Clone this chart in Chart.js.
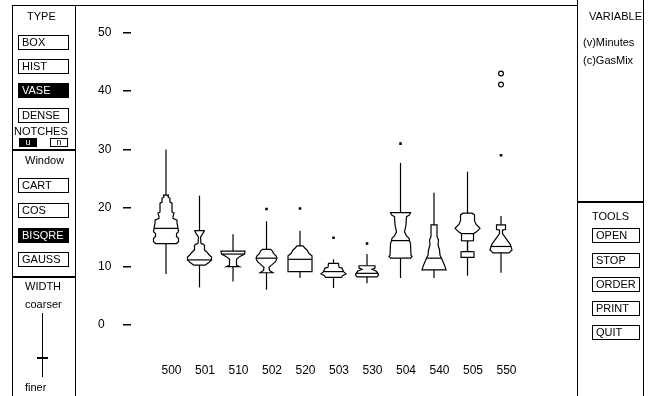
<!DOCTYPE html>
<html>
<head>
<meta charset="utf-8">
<script src="https://cdn.jsdelivr.net/npm/chart.js@4"></script>
<style>
  body { margin: 0; background: #fff; }
  #wrap { position: relative; width: 651px; height: 396px; overflow: hidden;
          font-family: 'Liberation Sans', Arial, sans-serif; font-size: 11px; color: #000; }
  #chartBox { position: absolute; left: 0; top: 0; width: 651px; height: 396px; }
  .ln { position: absolute; background: #000; }
  .txt { position: absolute; line-height: 12px; white-space: nowrap; }
  .btn { position: absolute; box-sizing: border-box; height: 15px; line-height: 13px;
         border: 1px solid #000; padding-left: 3px; background: #fff; }
  .btn.on { background: #000; color: #fff; }
  .notch { position: absolute; box-sizing: border-box; width: 18px; height: 9px; top: 138px;
           border: 1px solid #000; font-size: 9px; line-height: 7px; text-align: center; }
</style>
</head>
<body>
<div id="wrap">
  <div id="chartBox"><canvas id="miGrafica"></canvas></div>

  <!-- marcos -->
  <div class="ln" style="left:12px;top:5px;width:565px;height:1px"></div>
  <div class="ln" style="left:12px;top:5px;width:1px;height:391px"></div>
  <div class="ln" style="left:75px;top:5px;width:1px;height:391px"></div>
  <div class="ln" style="left:12px;top:149px;width:64px;height:2px"></div>
  <div class="ln" style="left:12px;top:276px;width:64px;height:2px"></div>
  <div class="ln" style="left:577px;top:0;width:1px;height:396px"></div>
  <div class="ln" style="left:643px;top:0;width:1px;height:396px"></div>
  <div class="ln" style="left:577px;top:201px;width:67px;height:2px"></div>

  <!-- panel izquierdo -->
  <div class="txt" style="left:27px;top:10px">TYPE</div>
  <div class="btn" style="left:18px;top:35px;width:51px">BOX</div>
  <div class="btn" style="left:18px;top:59px;width:51px">HIST</div>
  <div class="btn on" style="left:18px;top:83px;width:51px">VASE</div>
  <div class="btn" style="left:18px;top:108px;width:51px">DENSE</div>
  <div class="txt" style="left:14px;top:125px">NOTCHES</div>
  <div class="notch" style="left:19px;background:#000;color:#fff">u</div>
  <div class="notch" style="left:50px">n</div>
  <div class="txt" style="left:25px;top:154px">Window</div>
  <div class="btn" style="left:18px;top:178px;width:51px">CART</div>
  <div class="btn" style="left:18px;top:203px;width:51px">COS</div>
  <div class="btn on" style="left:18px;top:228px;width:51px">BISQRE</div>
  <div class="btn" style="left:18px;top:252px;width:51px">GAUSS</div>
  <div class="txt" style="left:25px;top:280px">WIDTH</div>
  <div class="txt" style="left:25px;top:298px">coarser</div>
  <div class="ln" style="left:42px;top:313px;width:1px;height:64px"></div>
  <div class="ln" style="left:37px;top:357px;width:11px;height:2px"></div>
  <div class="txt" style="left:25px;top:381px">finer</div>

  <!-- panel derecho -->
  <div class="txt" style="left:589px;top:10px">VARIABLE</div>
  <div class="txt" style="left:583px;top:36px">(v)Minutes</div>
  <div class="txt" style="left:583px;top:54px">(c)GasMix</div>
  <div class="txt" style="left:592px;top:210px">TOOLS</div>
  <div class="btn" style="left:592px;top:228px;width:48px">OPEN</div>
  <div class="btn" style="left:592px;top:253px;width:48px">STOP</div>
  <div class="btn" style="left:592px;top:277px;width:48px">ORDER</div>
  <div class="btn" style="left:592px;top:301px;width:48px">PRINT</div>
  <div class="btn" style="left:592px;top:325px;width:48px">QUIT</div>
</div>

<script>
// grupos (GasMix) y valores
const grupos = ['500', '501', '510', '502', '520', '503', '530', '504', '540', '505', '550'];
const bigoteBajo = [8.7, 6.4, 7.4, 6.0, 8.0, 6.3, 7.1, 8.0, 8.0, 8.4, 8.9];
const bigoteAlto = [30.0, 22.1, 15.5, 17.7, 16.1, 11.2, 12.1, 27.7, 22.6, 26.2, 18.6];
const medianas = [16.5, 11.1, 12.1, 11.4, 11.2, 9.1, 8.8, 14.4, 11.4, 15.6, 13.4];

// perfil del jarron: [valor, densidad] desde abajo (bisagra inferior) hasta arriba
const perfiles = [
  [[13.9, 10.5], [14.2, 12.5], [14.8, 12.5], [15.1, 10.5], [15.6, 10.5], [15.9, 12.5], [16.5, 12], [17.4, 11], [17.9, 11], [18.2, 7], [18.5, 7], [19.1, 8], [19.3, 6], [20.8, 6], [21.0, 4], [21.6, 4], [21.9, 2], [22.2, 2.5]],
  [[10.2, 5.5], [10.6, 9], [11.1, 12], [11.6, 12], [11.9, 10], [12.5, 7], [12.8, 5], [13.6, 5], [13.8, 3.5], [13.9, 1.5], [15.0, 1], [16.0, 4.7], [16.1, 4.7]],
  [[9.95, 6.5], [10.2, 3.5], [11.2, 3.5], [11.7, 7], [12.1, 11.5], [12.6, 12]],
  [[8.9, 6.5], [9.3, 3], [9.85, 2.5], [10.2, 5], [10.8, 9], [11.4, 10.5], [11.8, 9.5], [12.2, 7], [12.6, 6], [12.9, 4]],
  [[9.1, 12], [11.8, 12], [12.2, 9], [12.8, 7], [13.1, 5], [13.5, 3]],
  [[8.1, 8], [8.4, 9], [8.7, 12.5], [9.1, 10], [9.7, 8.5], [9.85, 5.5], [10.5, 5]],
  [[8.2, 10], [8.5, 11.5], [8.8, 11], [9.2, 9], [9.5, 5], [9.7, 8], [10.1, 8]],
  [[11.4, 10], [11.7, 11.5], [11.9, 10.5], [13.9, 10], [14.4, 9], [14.8, 8.5], [15.2, 6], [15.9, 4], [17.1, 5.5], [18.5, 6], [18.8, 9], [19.2, 10]],
  [[9.4, 12], [10.2, 10.5], [11.4, 7.5], [11.9, 6], [12.8, 5.5], [13.7, 4], [14.5, 4.5], [15.1, 3], [17.1, 3]],
  [[11.55, 6.5], [12.5, 6.5], [12.55, 0], [14.35, 0], [14.4, 6], [15.6, 6], [15.9, 9], [16.5, 12.5], [17.2, 8.5], [17.8, 7], [18.8, 7], [19.1, 4.5]],
  [[12.3, 8], [12.8, 11], [13.4, 10], [13.8, 9], [15.6, 1.5], [16.2, 1.5], [16.3, 4.5], [17.1, 4.5]]
];

// valores atipicos (indice de grupo, minutos)
const atipicosGrupo = [3, 4, 5, 6, 7, 10];
const atipicosValor = [19.8, 19.9, 14.9, 13.9, 31.0, 29.0];
const lejanosGrupo = [10, 10];
const lejanosValor = [43.0, 41.1];

const ticksY = [0, 10, 20, 30, 40, 50];

function densidadEn(perfil, v) {
  for (let k = 1; k < perfil.length; k++) {
    const [v0, d0] = perfil[k - 1];
    const [v1, d1] = perfil[k];
    if (v >= v0 && v <= v1) return v1 === v0 ? d1 : d0 + (d1 - d0) * (v - v0) / (v1 - v0);
  }
  return 0;
}

// dibuja bigotes, jarrones y medianas con las escalas del grafico
const pluginJarrones = {
  id: 'jarrones',
  beforeDatasetsDraw(chart, args, opts) {
    const { ctx, scales: { x, y } } = chart;
    const k = opts.escala;
    ctx.save();
    ctx.strokeStyle = '#000';
    ctx.fillStyle = '#fff';
    ctx.lineWidth = 1.2;
    grupos.forEach((g, i) => {
      const cx = x.getPixelForValue(i);
      ctx.beginPath();
      ctx.moveTo(cx, y.getPixelForValue(bigoteBajo[i]));
      ctx.lineTo(cx, y.getPixelForValue(bigoteAlto[i]));
      ctx.stroke();

      const p = perfiles[i];
      ctx.beginPath();
      p.forEach(([v, d], j) => {
        const px = x.getPixelForValue(i - d * k), py = y.getPixelForValue(v);
        if (j === 0) ctx.moveTo(px, py); else ctx.lineTo(px, py);
      });
      for (let j = p.length - 1; j >= 0; j--) {
        ctx.lineTo(x.getPixelForValue(i + p[j][1] * k), y.getPixelForValue(p[j][0]));
      }
      ctx.closePath();
      ctx.fill();
      ctx.stroke();

      const dm = densidadEn(p, medianas[i]);
      const ym = y.getPixelForValue(medianas[i]);
      ctx.beginPath();
      ctx.moveTo(x.getPixelForValue(i - dm * k), ym);
      ctx.lineTo(x.getPixelForValue(i + dm * k), ym);
      ctx.stroke();
    });
    ctx.restore();
  }
};

const fuente = { family: "'Liberation Sans', Arial, sans-serif", size: 12 };

new Chart(document.getElementById('miGrafica'), {
  type: 'scatter',
  data: {
    datasets: [
      {
        label: 'atipicos',
        data: atipicosGrupo.map((g, i) => ({ x: g, y: atipicosValor[i] })),
        pointStyle: 'rect',
        pointRadius: 1.8,
        backgroundColor: '#000',
        borderColor: '#000',
        borderWidth: 0
      },
      {
        label: 'lejanos',
        data: lejanosGrupo.map((g, i) => ({ x: g, y: lejanosValor[i] })),
        pointStyle: 'circle',
        pointRadius: 2.4,
        backgroundColor: '#fff',
        borderColor: '#000',
        borderWidth: 1.2
      }
    ]
  },
  options: {
    responsive: true,
    maintainAspectRatio: false,
    animation: false,
    layout: { padding: { left: 98, top: 3, right: 91, bottom: 0 } },
    plugins: {
      legend: { display: false },
      tooltip: { enabled: false },
      jarrones: { escala: 1 / 33.5 }
    },
    scales: {
      x: {
        type: 'linear',
        min: -1.045,
        max: 11.761,
        afterBuildTicks: s => { s.ticks = grupos.map((g, i) => ({ value: i })); },
        afterFit: s => { s.height = 42; },
        grid: { display: false },
        border: { display: false },
        ticks: {
          callback: v => grupos[v],
          color: '#000',
          font: fuente,
          padding: 1,
          labelOffset: 5.5,
          maxRotation: 0,
          autoSkip: false
        }
      },
      y: {
        min: -5,
        max: 52.8,
        afterBuildTicks: s => { s.ticks = ticksY.map(v => ({ value: v })); },
        afterFit: s => { s.width = 33; },
        grid: { drawOnChartArea: false, drawTicks: true, tickLength: 8, color: '#000', lineWidth: 1.5 },
        border: { display: false },
        ticks: { color: '#000', font: fuente, padding: 9, crossAlign: 'far' }
      }
    }
  },
  plugins: [pluginJarrones]
});
</script>
</body>
</html>
